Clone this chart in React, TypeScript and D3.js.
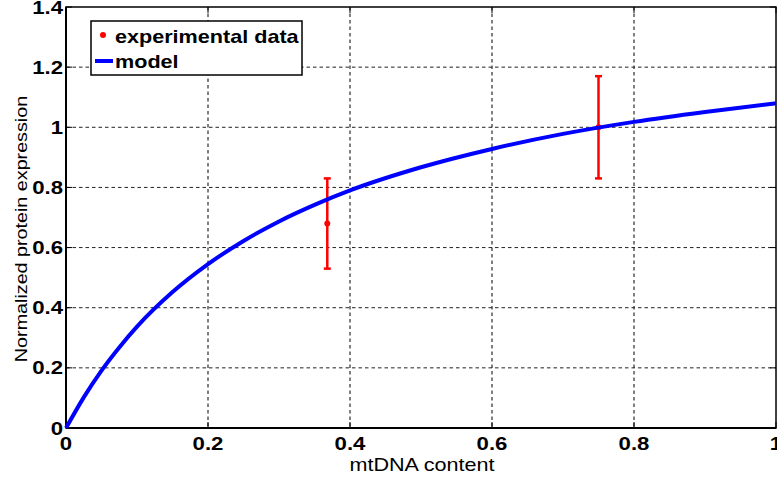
import React from "react";
import * as d3 from "d3";

const xTicks = [0, 0.2, 0.4, 0.6, 0.8, 1];
const xTickLabels = ["0", "0.2", "0.4", "0.6", "0.8", "1"];
const yTicks = [0, 0.2, 0.4, 0.6, 0.8, 1, 1.2, 1.4];
const yTickLabels = ["0", "0.2", "0.4", "0.6", "0.8", "1", "1.2", "1.4"];

// experimental data: x, mean, lower, upper
const expX = [0.368, 0.75];
const expY = [0.68, 1.0];
const expLow = [0.53, 0.83];
const expHigh = [0.83, 1.17];

// model curve
const modelX = [0, 0.025, 0.05, 0.075, 0.1, 0.15, 0.2, 0.25, 0.3, 0.35, 0.4, 0.5, 0.6, 0.7, 0.8, 0.9, 1.0];
const modelY = [0, 0.102, 0.191, 0.268, 0.337, 0.452, 0.545, 0.622, 0.687, 0.742, 0.79, 0.867, 0.928, 0.978, 1.018, 1.051, 1.08];

const W = 777;
const H = 480;
const L = 66, R = 776, T = 7, B = 428;
const SX = 1.2;
const FONT = "Liberation Sans, Arial, Helvetica, sans-serif";

export default function App() {
  const x = d3.scaleLinear().domain([0, 1]).range([L, R]);
  const y = d3.scaleLinear().domain([0, 1.4]).range([B, T]);
  const line = d3
    .line<number>()
    .x((_, i) => x(modelX[i]))
    .y((d) => y(d))
    .curve(d3.curveMonotoneX);

  return (
    <svg
      width={W}
      height={H}
      style={{ position: "absolute", left: 0, top: 0, background: "#fff" }}
      fontFamily={FONT}
    >
      <rect x={0} y={0} width={W} height={H} fill="#fff" />
      {/* grid */}
      {xTicks.slice(1, -1).map((t) => (
        <line key={"gx" + t} x1={x(t)} x2={x(t)} y1={T} y2={B} stroke="#000" strokeWidth={1} strokeDasharray="3.5,3" />
      ))}
      {yTicks.slice(1, -1).map((t) => (
        <line key={"gy" + t} x1={L} x2={R} y1={y(t)} y2={y(t)} stroke="#222" strokeWidth={1} strokeDasharray="3.5,3" />
      ))}
      {/* ticks */}
      {xTicks.map((t) => (
        <g key={"tx" + t}>
          <line x1={x(t)} x2={x(t)} y1={B} y2={B - 6} stroke="#000" strokeWidth={1} />
          <line x1={x(t)} x2={x(t)} y1={T} y2={T + 6} stroke="#000" strokeWidth={1} />
        </g>
      ))}
      {yTicks.map((t) => (
        <g key={"ty" + t}>
          <line x1={L} x2={L + 6} y1={y(t)} y2={y(t)} stroke="#000" strokeWidth={1} />
          <line x1={R} x2={R - 6} y1={y(t)} y2={y(t)} stroke="#000" strokeWidth={1} />
        </g>
      ))}
      {/* box */}
      <rect x={L} y={T} width={R - L} height={B - T} fill="none" stroke="#000" strokeWidth={1.5} />
      <line x1={L} x2={R} y1={B} y2={B} stroke="#000" strokeWidth={2} />
      <line x1={L} x2={L} y1={T} y2={B} stroke="#000" strokeWidth={2} />

      {/* error bars */}
      {expX.map((ex, i) => (
        <g key={"e" + i} stroke="#ff0000" strokeWidth={2.5}>
          <line x1={x(ex)} x2={x(ex)} y1={y(expLow[i])} y2={y(expHigh[i])} />
          <line x1={x(ex) - 3.5} x2={x(ex) + 3.5} y1={y(expLow[i])} y2={y(expLow[i])} />
          <line x1={x(ex) - 3.5} x2={x(ex) + 3.5} y1={y(expHigh[i])} y2={y(expHigh[i])} />
          <circle cx={x(ex)} cy={y(expY[i])} r={3} fill="#ff0000" stroke="none" />
        </g>
      ))}

      {/* model */}
      <path d={line(modelY) || ""} fill="none" stroke="#0000ff" strokeWidth={4} />

      {/* tick labels */}
      {xTicks.map((t, i) => (
        <text
          key={"lx" + t}
          transform={`translate(${x(t)},${450}) scale(${SX},1)`}
          textAnchor="middle"
          fontSize={18.5}
          fontWeight="bold"
        >
          {xTickLabels[i]}
        </text>
      ))}
      {yTicks.map((t, i) => (
        <text
          key={"ly" + t}
          transform={`translate(${63},${y(t) + 6.5}) scale(${SX},1)`}
          textAnchor="end"
          fontSize={18.5}
          fontWeight="bold"
        >
          {yTickLabels[i]}
        </text>
      ))}

      {/* axis labels */}
      <text transform={`translate(${422},${471}) scale(${SX},1)`} textAnchor="middle" fontSize={18}>
        mtDNA content
      </text>
      <text transform={`translate(${27},${229}) rotate(-90) scale(1.16,1)`} textAnchor="middle" fontSize={17}>
        Normalized protein expression
      </text>

      {/* legend */}
      <rect x={91} y={21} width={211} height={54} fill="#fff" stroke="#000" strokeWidth={1.5} />
      <circle cx={103} cy={35} r={3} fill="#ff0000" />
      <line x1={95} x2={113} y1={61} y2={61} stroke="#0000ff" strokeWidth={4} />
      <text transform={`translate(${115},${43}) scale(${SX},1)`} fontSize={18} fontWeight="bold">
        experimental data
      </text>
      <text transform={`translate(${115},${68}) scale(${SX},1)`} fontSize={18} fontWeight="bold">
        model
      </text>
    </svg>
  );
}
